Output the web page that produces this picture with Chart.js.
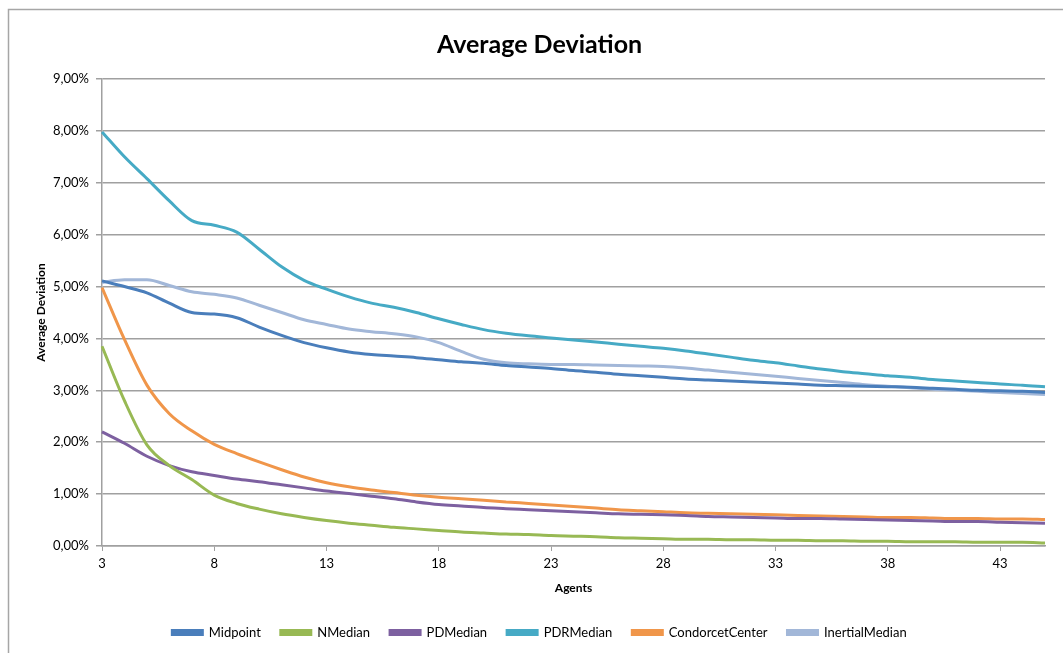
<!DOCTYPE html>
<html>
<head>
<meta charset="utf-8">
<script src="https://cdn.jsdelivr.net/npm/chart.js@4"></script>
<style>
  html, body { margin: 0; padding: 0; background: #fff; }
  #wrap { width: 1063px; height: 653px; }
</style>
</head>
<body>
<div id="wrap"><canvas id="devChart"></canvas></div>
<script>
// Agents on the x axis (3 .. 45)
const agents = [3,4,5,6,7,8,9,10,11,12,13,14,15,16,17,18,19,20,21,22,23,24,25,26,27,28,29,30,31,32,33,34,35,36,37,38,39,40,41,42,43,44,45];

// Average deviation in percent, one value per agent count
const midpoint = [5.11,5.00,4.88,4.68,4.50,4.47,4.40,4.22,4.06,3.92,3.82,3.74,3.69,3.66,3.63,3.59,3.55,3.52,3.48,3.45,3.42,3.38,3.35,3.31,3.28,3.25,3.22,3.20,3.18,3.16,3.14,3.12,3.10,3.09,3.08,3.07,3.06,3.04,3.02,3.00,2.99,2.98,2.96];
const nMedian = [3.85,2.80,1.95,1.55,1.28,0.98,0.82,0.71,0.62,0.55,0.49,0.44,0.40,0.36,0.33,0.30,0.27,0.25,0.23,0.22,0.20,0.19,0.18,0.16,0.15,0.14,0.13,0.13,0.12,0.12,0.11,0.11,0.10,0.10,0.09,0.09,0.08,0.08,0.08,0.07,0.07,0.07,0.06];
const pdMedian = [2.20,1.98,1.73,1.55,1.43,1.36,1.29,1.24,1.18,1.12,1.06,1.01,0.96,0.91,0.85,0.80,0.77,0.74,0.72,0.70,0.68,0.66,0.64,0.62,0.61,0.60,0.59,0.57,0.56,0.55,0.54,0.53,0.53,0.52,0.51,0.50,0.49,0.48,0.47,0.47,0.46,0.45,0.44];
const pdrMedian = [7.98,7.50,7.08,6.65,6.27,6.18,6.05,5.72,5.38,5.12,4.95,4.80,4.68,4.60,4.50,4.38,4.27,4.17,4.10,4.05,4.01,3.97,3.93,3.89,3.85,3.81,3.76,3.70,3.64,3.58,3.53,3.47,3.41,3.36,3.32,3.28,3.25,3.21,3.18,3.15,3.12,3.10,3.07];
const condorcetCenter = [4.98,3.98,3.10,2.55,2.22,1.96,1.78,1.62,1.47,1.33,1.22,1.14,1.08,1.03,0.98,0.94,0.91,0.88,0.85,0.82,0.79,0.76,0.73,0.70,0.68,0.66,0.64,0.63,0.62,0.61,0.60,0.59,0.58,0.57,0.56,0.55,0.55,0.54,0.53,0.53,0.52,0.52,0.51];
const inertialMedian = [5.08,5.13,5.13,5.02,4.90,4.85,4.78,4.64,4.50,4.36,4.27,4.18,4.13,4.09,4.03,3.92,3.75,3.60,3.53,3.51,3.50,3.50,3.49,3.48,3.47,3.46,3.43,3.39,3.35,3.31,3.27,3.23,3.19,3.15,3.11,3.08,3.05,3.02,3.00,2.98,2.96,2.94,2.92];

const seriesNames = ['Midpoint', 'NMedian', 'PDMedian', 'PDRMedian', 'CondorcetCenter', 'InertialMedian'];
const seriesData = [midpoint, nMedian, pdMedian, pdrMedian, condorcetCenter, inertialMedian];
const seriesColors = ['#4a7ebb', '#98b954', '#7d60a0', '#46aac5', '#f0964a', '#a2b7d8'];

const fontFamily = 'Lato, "Liberation Sans", sans-serif';

// gray outer frame like the spreadsheet chart border
const framePlugin = {
  id: 'frame',
  beforeDraw(chart) {
    const ctx = chart.ctx;
    ctx.save();
    ctx.fillStyle = '#fff';
    ctx.fillRect(0, 0, chart.width, chart.height);
    ctx.strokeStyle = '#a6a6a6';
    ctx.lineWidth = 1.5;
    ctx.strokeRect(8.5, 9.5, chart.width + 20, chart.height + 20);
    ctx.restore();
  }
};

const ctx = document.getElementById('devChart').getContext('2d');
new Chart(ctx, {
  type: 'line',
  data: {
    labels: agents,
    datasets: seriesNames.map((name, i) => ({
      label: name,
      data: seriesData[i],
      borderColor: seriesColors[i],
      backgroundColor: seriesColors[i],
      borderWidth: 3,
      pointRadius: 0,
      cubicInterpolationMode: 'monotone',
      fill: false
    }))
  },
  options: {
    responsive: true,
    maintainAspectRatio: false,
    animation: false,
    layout: { padding: { left: 34, right: 18, top: 14, bottom: 4 } },
    plugins: {
      title: {
        display: true,
        text: 'Average Deviation',
        color: '#000',
        font: { family: fontFamily, size: 25, weight: 'bold' },
        padding: { top: 16, bottom: 19 }
      },
      legend: {
        position: 'bottom',
        labels: {
          color: '#000',
          font: { family: fontFamily, size: 13 },
          boxWidth: 30,
          boxHeight: 4,
          padding: 20
        }
      },
      tooltip: { enabled: false }
    },
    scales: {
      x: {
        offset: false,
        grid: { display: true, drawOnChartArea: false, drawTicks: true, tickLength: 5, color: '#a0a0a0' },
        border: { color: '#a0a0a0', width: 1.5 },
        ticks: {
          autoSkip: false,
          maxRotation: 0,
          padding: 5,
          color: '#000',
          font: { family: fontFamily, size: 13 },
          callback: function (val, i) {
            return i % 5 === 0 ? this.getLabelForValue(val) : null;
          }
        },
        title: {
          display: true,
          text: 'Agents',
          color: '#000',
          font: { family: fontFamily, size: 12, weight: 'bold' },
          padding: { top: 4, bottom: 11 }
        }
      },
      y: {
        min: 0,
        max: 9,
        afterFit(scale) { scale.width = 68; },
        grid: { color: '#a0a0a0', lineWidth: 1.5, tickLength: 6 },
        border: { color: '#a0a0a0', width: 1.5 },
        ticks: {
          stepSize: 1,
          padding: 7,
          color: '#000',
          font: { family: fontFamily, size: 13 },
          callback: v => v.toFixed(2).replace('.', ',') + '%'
        },
        title: {
          display: true,
          text: 'Average Deviation',
          color: '#000',
          font: { family: fontFamily, size: 12, weight: 'bold' },
          padding: 0
        }
      }
    }
  },
  plugins: [framePlugin]
});
</script>
</body>
</html>
